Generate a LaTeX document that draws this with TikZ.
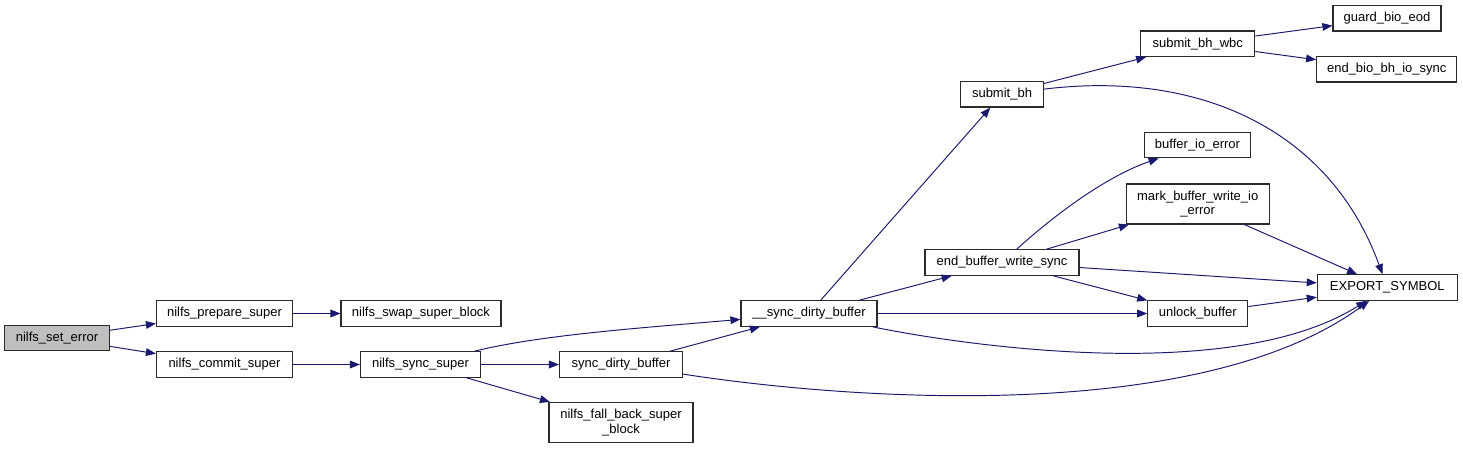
\documentclass[tikz,border=0pt]{standalone}
\usepackage{fontspec}
\setmainfont{Liberation Sans}
\usepackage{tikz}
\usetikzlibrary{arrows.meta, positioning}
\definecolor{EdgeBlue}{HTML}{191970}
\definecolor{RootGray}{HTML}{BFBFBF}
\definecolor{BoxLine}{HTML}{2B2B2B}

\begin{document}
\begin{tikzpicture}[
  x=0.02cm, y=-0.02cm,
  fn/.style={rectangle, draw=BoxLine, line width=0.65pt, fill=white, inner sep=0pt,
    font=\fontsize{7.4pt}{8.3pt}\selectfont, align=center,
    minimum width=#1*0.02cm, minimum height=0.51cm},
  fn2/.style={fn=#1, minimum height=0.8cm},
  root/.style={fn=#1, fill=RootGray},
  line/.style={-{Triangle[length=5.7pt,width=4.4pt]}, line width=0.55pt, color=EdgeBlue}
]
\useasboundingbox (0,0) rectangle (1463,449);

\node[root=105] (se)   at (57,338)       {nilfs\_set\_error};
\node[fn=136]   (ps)   at (224.5,313.5)  {nilfs\_prepare\_super};
\node[fn=136]   (cs)   at (224.5,364.5)  {nilfs\_commit\_super};
\node[fn=160]   (ssb)  at (421,313.5)    {nilfs\_swap\_super\_block};
\node[fn=120]   (ss)   at (420.5,364.5)  {nilfs\_sync\_super};
\node[fn=123]   (sdb)  at (621,364.5)    {sync\_dirty\_buffer};
\node[fn2=144]  (fb)   at (621,422.5)    {nilfs\_fall\_back\_super\\\_block};
\node[fn=136]   (usdb) at (809,313.5)    {\_\_sync\_dirty\_buffer};
\node[fn=154]   (ebws) at (1002,262.5)   {end\_buffer\_write\_sync};
\node[fn=83]    (sbh)  at (1002,94.3)    {submit\_bh};
\node[fn=114]   (sbw)  at (1197.7,43.8)  {submit\_bh\_wbc};
\node[fn=108]   (gbe)  at (1387,18.3)    {guard\_bio\_eod};
\node[fn=140]   (ebb)  at (1386.7,69.2)  {end\_bio\_bh\_io\_sync};
\node[fn=106]   (bie)  at (1197.5,145)   {buffer\_io\_error};
\node[fn2=143]  (mbw)  at (1197.7,204)   {mark\_buffer\_write\_io\\\_error};
\node[fn=140]   (es)   at (1387.3,287.5) {EXPORT\_SYMBOL};
\node[fn=100]   (ub)   at (1197.8,313.5) {unlock\_buffer};

\draw[line] (se) -- (ps);
\draw[line] (se) -- (cs);
\draw[line] (ps) -- (ssb);
\draw[line] (cs) -- (ss);
\draw[line] (ss) .. controls (540,335) and (640,328) .. (usdb);
\draw[line] (ss) -- (sdb);
\draw[line] (ss) -- (fb);
\draw[line] (sdb) -- (usdb);
\draw[line] (sdb) .. controls (850,400) and (1200,425) .. (es);
\draw[line] (usdb) -- (sbh);
\draw[line] (usdb) -- (ebws);
\draw[line] (usdb) -- (ub);
\draw[line] (usdb) .. controls (950,343) and (1230,387) .. (es);
\draw[line] (sbh) -- (sbw);
\draw[line] (sbh) .. controls (1200,70) and (1330,130) .. (es);
\draw[line] (sbw) -- (gbe);
\draw[line] (sbw) -- (ebb);
\draw[line] (ebws) .. controls (1060,210) and (1110,175) .. (bie);
\draw[line] (ebws) -- (mbw);
\draw[line] (ebws) -- (es);
\draw[line] (ebws) -- (ub);
\draw[line] (mbw) -- (es);
\draw[line] (ub) -- (es);
\end{tikzpicture}
\end{document}
